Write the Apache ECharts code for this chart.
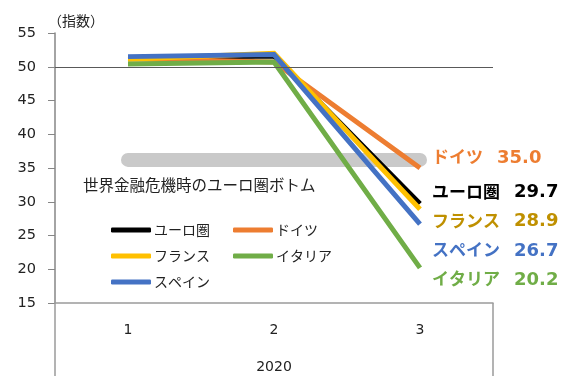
<!DOCTYPE html>
<html>
<head>
<meta charset="utf-8">
<script src="https://cdn.jsdelivr.net/npm/echarts@6/dist/echarts.min.js"></script>
<style>
  html, body { margin: 0; padding: 0; background: #fff; }
  #chart { width: 578px; height: 376px; }
</style>
</head>
<body>
<div id="chart"></div>
<script>
// 総合PMI（2020年1〜3月）
const months = ['1', '2', '3'];
const yearLabel = '2020';
const euroArea = [51.3, 51.6, 29.7];
const germany  = [51.2, 50.7, 35.0];
const france   = [51.1, 52.0, 28.9];
const italy    = [50.4, 50.7, 20.2];
const spain    = [51.5, 51.8, 26.7];
// 世界金融危機時のユーロ圏ボトム
const gfcBottom = 36.2;
const baseline = 50;

const FONT = '"Noto Sans CJK JP", "Noto Sans", sans-serif';
const NUM_FONT = '"DejaVu Sans", "Noto Sans", sans-serif';

function lastLabeled(values, color, offsetY) {
  return values.map((v, i) => i === values.length - 1 ? {
    value: v,
    label: {
      show: true, position: 'right', distance: 12, offset: [0, offsetY],
      formatter: p => '{n|' + p.seriesName + '}{v|' + Number(p.value).toFixed(1) + '}',
      rich: {
        n: { color: color, fontSize: 17, fontWeight: 'bold', fontFamily: FONT, lineHeight: 22, verticalAlign: 'middle' },
        v: { color: color, fontSize: 18, fontWeight: 'bold', fontFamily: NUM_FONT, lineHeight: 22, verticalAlign: 'middle', padding: [2, 0, 0, 14] }
      }
    }
  } : v);
}

function lineSeries(name, values, color, labelColor, offsetY, z) {
  return {
    name: name, type: 'line', data: lastLabeled(values, labelColor, offsetY),
    symbol: 'circle', symbolSize: 0, showSymbol: true, z: z,
    lineStyle: { width: 5, color: color, cap: 'butt', join: 'miter' },
    itemStyle: { color: color },
    emphasis: { disabled: true }
  };
}

const legendText = { fontSize: 14, color: '#222', fontFamily: FONT, padding: [0, 0, 0, -2] };

const chart = echarts.init(document.getElementById('chart'));
chart.setOption({
  animation: false,
  backgroundColor: '#fff',
  textStyle: { fontFamily: FONT },
  grid: { left: 55, right: 85, top: 33, bottom: 73, containLabel: false, outerBoundsMode: 'none' },
  legend: [
    {
      data: ['ユーロ圏', 'フランス', 'スペイン'], orient: 'vertical',
      left: 106, top: 218, itemWidth: 40, itemHeight: 5, itemGap: 12,
      icon: 'roundRect', selectedMode: false, textStyle: legendText
    },
    {
      data: ['ドイツ', 'イタリア'], orient: 'vertical',
      left: 228, top: 218, itemWidth: 40, itemHeight: 5, itemGap: 12,
      icon: 'roundRect', selectedMode: false, textStyle: legendText
    }
  ],
  xAxis: {
    type: 'category', data: months, boundaryGap: true,
    axisLine: { lineStyle: { color: '#9a9a9a', width: 1.5 } },
    axisTick: { show: true, length: 73, interval: i => i === 0, lineStyle: { color: '#9a9a9a', width: 1.5 } },
    axisLabel: { fontSize: 14, color: '#222', margin: 20, fontFamily: NUM_FONT },
    name: yearLabel, nameLocation: 'middle', nameGap: 57,
    nameTextStyle: { fontSize: 14, color: '#222', fontFamily: NUM_FONT }
  },
  yAxis: {
    type: 'value', min: 15, max: 55, interval: 5,
    axisLine: { show: true, lineStyle: { color: '#868686', width: 1.5 } },
    axisTick: { show: true, length: 7, lineStyle: { color: '#868686' } },
    axisLabel: { fontSize: 14.5, color: '#222', margin: 19, fontFamily: NUM_FONT },
    splitLine: { show: false },
    name: '（指数）', nameLocation: 'end', nameGap: 5,
    nameTextStyle: { fontSize: 14, color: '#222', align: 'left', padding: [0, 0, 0, -7] }
  },
  series: [
    {
      name: 'ボトム', type: 'line', z: 1,
      symbol: 'circle', symbolSize: 0, showSymbol: true,
      data: months.map((m, i) => i === 0 ? {
        value: gfcBottom,
        label: {
          show: true, position: 'bottom', distance: 17, align: 'left', offset: [-45, 0],
          fontSize: 15.5, color: '#222', fontFamily: FONT,
          formatter: '世界金融危機時のユーロ圏ボトム'
        }
      } : gfcBottom),
      lineStyle: { width: 14, color: '#c9c9c9', cap: 'round' },
      itemStyle: { color: '#c9c9c9' },
      emphasis: { disabled: true },
      markLine: {
        silent: true, symbol: 'none', label: { show: false },
        lineStyle: { color: '#595959', width: 1, type: 'solid' },
        data: [{ yAxis: baseline }]
      }
    },
    lineSeries('ユーロ圏', euroArea, '#000000', '#000000', -12, 3),
    lineSeries('ドイツ', germany, '#ED7D31', '#ED7D31', -11, 3),
    lineSeries('フランス', france, '#FFC000', '#BF9000', 11, 3),
    lineSeries('イタリア', italy, '#70AD47', '#70AD47', 11, 3),
    lineSeries('スペイン', spain, '#4472C4', '#4472C4', 26, 3)
  ]
});
</script>
</body>
</html>
